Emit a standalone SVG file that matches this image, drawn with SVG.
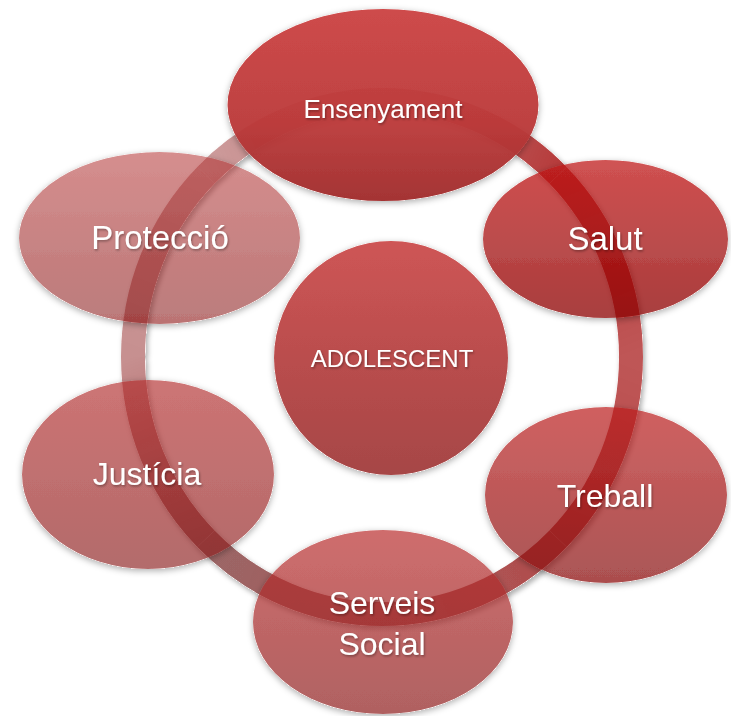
<svg xmlns="http://www.w3.org/2000/svg" width="731" height="716" viewBox="0 0 731 716">
<defs>
<style>
text{font-family:"Liberation Sans",Arial,sans-serif;fill:#ffffff;text-anchor:middle;filter:url(#ts);}
.ring{fill:none;stroke-width:24;}
.node{filter:url(#nsh);}
</style>
<filter id="ts" x="-10%" y="-30%" width="120%" height="160%">
<feDropShadow dx="1" dy="1.5" stdDeviation="1.2" flood-color="#000" flood-opacity="0.35"/>
</filter>
<filter id="nsh" x="-10%" y="-10%" width="120%" height="125%">
<feComponentTransfer in="SourceAlpha" result="a"><feFuncA type="linear" slope="20"/></feComponentTransfer>
<feGaussianBlur in="a" stdDeviation="3" result="b"/>
<feOffset in="b" dx="0" dy="2" result="o"/>
<feComposite in="o" in2="a" operator="out" result="s"/>
<feColorMatrix in="s" type="matrix" values="0 0 0 0 0  0 0 0 0 0  0 0 0 0 0  0 0 0 0.3 0" result="s2"/>
<feMerge><feMergeNode in="s2"/><feMergeNode in="SourceGraphic"/></feMerge>
</filter>
<filter id="rsh" x="-5%" y="-5%" width="110%" height="110%">
<feComponentTransfer in="SourceAlpha" result="a"><feFuncA type="linear" slope="20"/></feComponentTransfer>
<feGaussianBlur in="a" stdDeviation="2.5" result="b"/>
<feOffset in="b" dx="2" dy="2.5" result="o"/>
<feComposite in="o" in2="a" operator="out" result="s"/>
<feColorMatrix in="s" type="matrix" values="0 0 0 0 0  0 0 0 0 0  0 0 0 0 0  0 0 0 0.3 0" result="s2"/>
<feMerge><feMergeNode in="s2"/><feMergeNode in="SourceGraphic"/></feMerge>
</filter>
<linearGradient id="r0" gradientUnits="userSpaceOnUse" x1="631" y1="357" x2="558.07" y2="538.73"><stop offset="0" stop-color="#a81a1a" stop-opacity="0.74"/><stop offset="1" stop-color="#a02020" stop-opacity="0.8"/></linearGradient>
<linearGradient id="r1" gradientUnits="userSpaceOnUse" x1="558.07" y1="538.73" x2="382" y2="614"><stop offset="0" stop-color="#a02020" stop-opacity="0.8"/><stop offset="1" stop-color="#8a2d2d" stop-opacity="0.78"/></linearGradient>
<linearGradient id="r2" gradientUnits="userSpaceOnUse" x1="382" y1="614" x2="205.93" y2="538.73"><stop offset="0" stop-color="#8a2d2d" stop-opacity="0.78"/><stop offset="1" stop-color="#7a3434" stop-opacity="0.75"/></linearGradient>
<linearGradient id="r3" gradientUnits="userSpaceOnUse" x1="205.93" y1="538.73" x2="133" y2="357"><stop offset="0" stop-color="#7a3434" stop-opacity="0.75"/><stop offset="1" stop-color="#891414" stop-opacity="0.48"/></linearGradient>
<linearGradient id="r4" gradientUnits="userSpaceOnUse" x1="133" y1="357" x2="205.93" y2="175.27"><stop offset="0" stop-color="#891414" stop-opacity="0.48"/><stop offset="1" stop-color="#891111" stop-opacity="0.42"/></linearGradient>
<linearGradient id="r5" gradientUnits="userSpaceOnUse" x1="205.93" y1="175.27" x2="382" y2="100"><stop offset="0" stop-color="#891111" stop-opacity="0.42"/><stop offset="1" stop-color="#961616" stop-opacity="0.6"/></linearGradient>
<linearGradient id="r6" gradientUnits="userSpaceOnUse" x1="382" y1="100" x2="558.07" y2="175.27"><stop offset="0" stop-color="#961616" stop-opacity="0.6"/><stop offset="1" stop-color="#aa1919" stop-opacity="0.85"/></linearGradient>
<linearGradient id="r7" gradientUnits="userSpaceOnUse" x1="558.07" y1="175.27" x2="631" y2="357"><stop offset="0" stop-color="#aa1919" stop-opacity="0.85"/><stop offset="1" stop-color="#a81a1a" stop-opacity="0.74"/></linearGradient>
<linearGradient id="gEns" x1="0" y1="0" x2="0" y2="1"><stop offset="0" stop-color="#cc4343"/><stop offset="0.6" stop-color="#bb3a3a"/><stop offset="1" stop-color="#a02c2c"/></linearGradient>
<linearGradient id="gSal" x1="0" y1="0" x2="0" y2="1"><stop offset="0" stop-color="#c01818"/><stop offset="1" stop-color="#8b0000"/></linearGradient>
<linearGradient id="gTre" x1="0" y1="0" x2="0" y2="1"><stop offset="0" stop-color="#bc1f1f"/><stop offset="1" stop-color="#860808"/></linearGradient>
<linearGradient id="gSer" x1="0" y1="0" x2="0" y2="1"><stop offset="0" stop-color="#bc3333"/><stop offset="1" stop-color="#912525"/></linearGradient>
<linearGradient id="gJus" x1="0" y1="0" x2="0" y2="1"><stop offset="0" stop-color="#b22929"/><stop offset="1" stop-color="#8a1b1b"/></linearGradient>
<linearGradient id="gPro" x1="0" y1="0" x2="0" y2="1"><stop offset="0" stop-color="#b33232"/><stop offset="1" stop-color="#830a0a"/></linearGradient>
<linearGradient id="gAdo" x1="0" y1="0" x2="0" y2="1"><stop offset="0" stop-color="#ce5555"/><stop offset="1" stop-color="#a64646"/></linearGradient>
</defs>
<rect width="731" height="716" fill="#ffffff"/>
<g id="connectors" filter="url(#rsh)">
<path class="ring" stroke="url(#r0)" d="M631 357 A249 257 0 0 1 558.07 538.73"/>
<path class="ring" stroke="url(#r1)" d="M558.07 538.73 A249 257 0 0 1 382 614"/>
<path class="ring" stroke="url(#r2)" d="M382 614 A249 257 0 0 1 205.93 538.73"/>
<path class="ring" stroke="url(#r3)" d="M205.93 538.73 A249 257 0 0 1 133 357"/>
<path class="ring" stroke="url(#r4)" d="M133 357 A249 257 0 0 1 205.93 175.27"/>
<path class="ring" stroke="url(#r5)" d="M205.93 175.27 A249 257 0 0 1 382 100"/>
<path class="ring" stroke="url(#r6)" d="M382 100 A249 257 0 0 1 558.07 175.27"/>
<path class="ring" stroke="url(#r7)" d="M558.07 175.27 A249 257 0 0 1 631 357"/>
</g>
<g id="node-adolescent">
<circle class="node" cx="391" cy="358" r="117" fill="url(#gAdo)"/>
<text x="392" y="367" font-size="24">ADOLESCENT</text>
</g>
<g id="node-salut">
<ellipse class="node" cx="605.5" cy="239" rx="122.5" ry="79" fill="url(#gSal)" fill-opacity="0.75"/>
<text x="605" y="250" font-size="33">Salut</text>
</g>
<g id="node-treball">
<ellipse class="node" cx="606" cy="495" rx="121" ry="88" fill="url(#gTre)" fill-opacity="0.7"/>
<text x="605" y="507" font-size="32">Treball</text>
</g>
<g id="node-serveis-social">
<ellipse class="node" cx="383" cy="622" rx="130" ry="92" fill="url(#gSer)" fill-opacity="0.72"/>
<text x="382" y="614" font-size="32">Serveis</text>
<text x="382" y="655" font-size="32">Social</text>
</g>
<g id="node-justicia">
<ellipse class="node" cx="148" cy="474.5" rx="126" ry="94.5" fill="url(#gJus)" fill-opacity="0.65"/>
<text x="147" y="485" font-size="32">Justícia</text>
</g>
<g id="node-proteccio">
<ellipse class="node" cx="159.5" cy="238" rx="140.5" ry="86" fill="url(#gPro)" fill-opacity="0.55"/>
<text x="160" y="249" font-size="33">Protecció</text>
</g>
<g id="node-ensenyament">
<ellipse class="node" cx="383" cy="105" rx="155.5" ry="96" fill="url(#gEns)" fill-opacity="0.96"/>
<text x="383" y="118" font-size="26">Ensenyament</text>
</g>
</svg>
